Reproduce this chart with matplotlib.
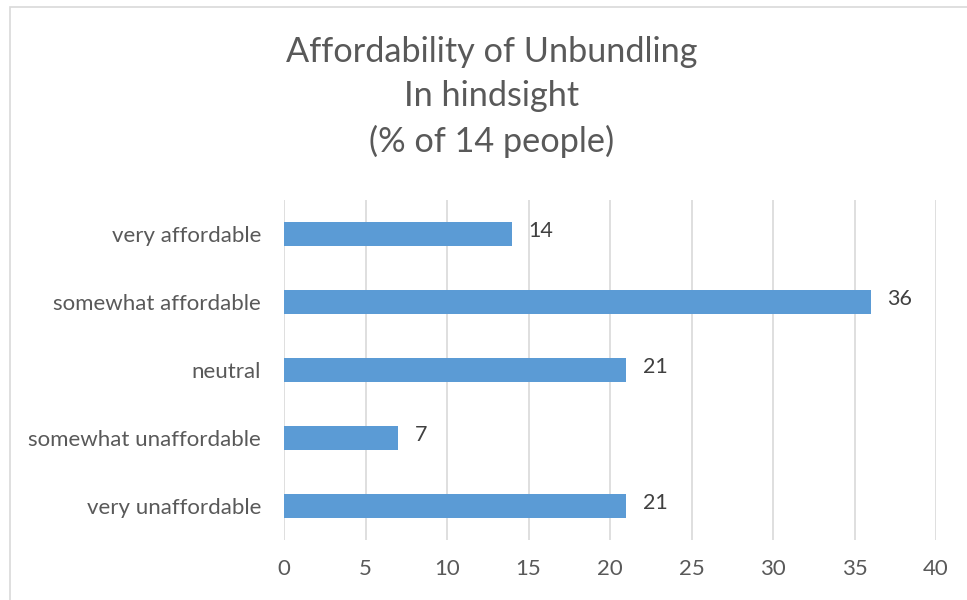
import matplotlib.pyplot as plt
from matplotlib.patches import Rectangle

# donnees
categories = ["very unaffordable", "somewhat unaffordable", "neutral",
              "somewhat affordable", "very affordable"]
pourcent = [21, 7, 21, 36, 14]
xticks = [0, 5, 10, 15, 20, 25, 30, 35, 40]

plt.rcParams['font.family'] = ['Lato', 'DejaVu Sans']
gris = '#595959'

fig = plt.figure(figsize=(9.67, 6), dpi=100)
ax = fig.add_axes([0.2937, 0.1, 0.968 - 0.2937, 0.5667])

# cadre gris du graphique (coupe a droite et en bas)
fig.patches.append(Rectangle((10 / 967, -0.05), 1.1, 1 - 7 / 600 + 0.05,
                             transform=fig.transFigure, fill=False,
                             edgecolor='#D9D9D9', linewidth=1.2))

ax.barh(range(len(categories)), pourcent, height=0.35, color='#5B9BD5', zorder=3)
for i, v in enumerate(pourcent):
    ax.text(v + 1.0, i + 0.04, str(v), va='center', ha='left', fontsize=15.5, color='#404040')

ax.set_xlim(0, 40)
ax.set_ylim(-0.5, 4.5)
ax.set_xticks(xticks)
ax.set_yticks(range(len(categories)))
ax.set_yticklabels(categories, va='center_baseline')
ax.tick_params(axis='both', length=0, labelsize=16, labelcolor=gris)
ax.tick_params(axis='y', pad=16.5)
ax.tick_params(axis='x', pad=14)
ax.grid(axis='x', color='#D9D9D9', linewidth=1.2, zorder=0)
for s in ax.spines.values():
    s.set_visible(False)

fig.text(0.5082, 0.838, "Affordability of Unbundling\nIn hindsight\n(% of 14 people)",
         ha='center', va='center', fontsize=24.7, color=gris, linespacing=1.46)

plt.savefig('out.png', dpi=100)
